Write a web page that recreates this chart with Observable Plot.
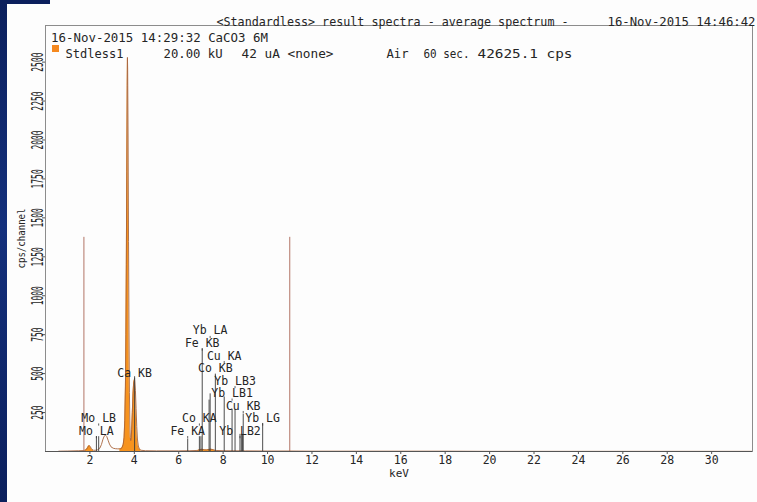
<!DOCTYPE html>
<html><head><meta charset="utf-8">
<script src="https://cdn.jsdelivr.net/npm/d3@7"></script>
<script src="https://cdn.jsdelivr.net/npm/@observablehq/plot@0.6"></script>
<style>
html,body{margin:0;padding:0;background:#fff;}
#wrap{position:relative;width:757px;height:502px;overflow:hidden;background:#fdfdfd;}
#wrap svg{position:absolute;left:0;top:0;}
.strip{position:absolute;left:0;top:0;width:7px;height:502px;background:linear-gradient(#0b1f5c,#14307c 45%,#0b1f5c);}
.strip2{position:absolute;left:0;top:0;width:50px;height:4px;background:#0b1f5c;}
.sq{position:absolute;left:52px;top:45px;width:7px;height:7px;background:#f5891f;}
</style></head><body><div id="wrap"><div class="strip"></div><div class="strip2"></div></div>
<script>
// ---- data ----
const xTicks = [2, 4, 6, 8, 10, 12, 14, 16, 18, 20, 22, 24, 26, 28, 30];
const yTicks = [250, 500, 750, 1000, 1250, 1500, 1750, 2000, 2250, 2500];

const energy = [0.6, 1.0, 1.5, 1.7, 1.80, 1.86, 1.90, 1.94, 1.98, 2.02, 2.06, 2.10, 2.16, 2.25, 2.35, 2.45, 2.52, 2.58, 2.64, 2.70, 2.76, 2.82, 2.88, 2.95, 3.05, 3.15, 3.25, 3.35, 3.40, 3.45, 3.50, 3.54, 3.57, 3.60, 3.62, 3.64, 3.66, 3.68, 3.69, 3.70, 3.72, 3.74, 3.76, 3.78, 3.80, 3.82, 3.84, 3.86, 3.88, 3.91, 3.94, 3.97, 4.00, 4.02, 4.05, 4.08, 4.11, 4.14, 4.18, 4.23, 4.30, 4.50, 5.0, 6.0, 6.5, 6.85, 6.95, 7.05, 7.15, 7.25, 7.35, 7.45, 7.55, 7.65, 8.0, 9.0, 10.0, 11.0, 12, 14, 16, 18, 20, 22, 24, 26, 28, 30, 31.8];
const counts = [2, 3, 5, 6, 9, 16, 26, 36, 38, 30, 20, 12, 8, 8, 11, 22, 45, 75, 98, 105, 96, 72, 48, 30, 21, 18, 17, 17, 18, 25, 45, 90, 200, 420, 750, 1200, 1800, 2350, 2530, 2450, 2000, 1350, 780, 380, 170, 90, 70, 85, 140, 250, 370, 440, 460, 455, 390, 275, 160, 80, 35, 15, 8, 5, 4, 4, 5, 7, 12, 14, 11, 10, 13, 15, 11, 7, 5, 4, 3, 3, 2, 2, 2, 2, 1, 1, 1, 1, 1, 1, 1];

const fillRanges = [[1.80, 2.16], [3.35, 4.30], [6.85, 7.65]];

const roiEnergies = [1.73, 11.0];
const roiHeight = 1375;

const elementNames = ["Mo LA", "Mo LB", "Ca KB", "Fe KA", "Co KA", "Fe KB", "Yb LA", "Co KB", "Cu KA", "Yb LB1", "Yb LB3", "Yb LB2", "Cu KB", "Yb LG"];
const elementEnergies = [2.293, 2.395, 4.013, 6.404, 6.930, 7.058, 7.415, 7.649, 8.048, 8.402, 8.536, 8.758, 8.905, 9.780];
const elementLineTop = [95, 95, 480, 80, 95, 660, 370, 490, 350, 270, 270, 110, 240, 180];
const elementLabelY = [132, 213, 505, 132, 213, 694, 775, 533, 614, 373, 453, 132, 293, 213];

const extraLineEnergies = [7.000, 7.367, 8.820, 8.870];
const extraLineTop = [95, 330, 110, 110];

const headerLeft = "<Standardless> result spectra - average spectrum -";
const headerDate = "16-Nov-2015 14:46:42";
const headerLine2 = "16-Nov-2015 14:29:32 CaCO3 6M";
const infoParts = ["Stdless1", "20.00 kU", "42 uA <none>", "Air", "60 sec.", "42625.1 cps"];

// ---- tables ----
const spec = energy.map((e, i) => ({e, c: counts[i]}));
const fillData = fillRanges.flatMap(([a, b], g) => spec.filter(d => d.e >= a && d.e <= b).map(d => ({...d, g})));
const elements = elementNames.map((name, i) => ({name, e: elementEnergies[i], h: elementLineTop[i], ly: elementLabelY[i]}));
const extras = extraLineEnergies.map((e, i) => ({e, h: extraLineTop[i]}));

// layout of the header texts (offsets from the frame's top-left corner, and widths in px)
const infoLayout = [[20, 58], [118, 59], [196, 92], [341, 22], [378, 46], [432, 95]];

const ink = "#252525";
const plot = Plot.plot({
  width: 757, height: 502,
  marginLeft: 45, marginRight: 5, marginTop: 25, marginBottom: 51,
  x: {domain: [0, 31.84]},
  y: {domain: [0, 2735]},
  style: {fontFamily: "'DejaVu Sans Mono', monospace", fontSize: "12px", color: ink, background: "transparent"},
  marks: [
    Plot.ruleX(roiEnergies, {x: d => d, y1: 0, y2: roiHeight, stroke: "#b27566", strokeWidth: 1}),
    Plot.areaY(fillData, {x: "e", y: "c", z: "g", fill: "#f7931e", curve: "linear"}),
    Plot.lineY(spec, {x: "e", y: "c", stroke: "#a8643c", strokeWidth: 0.9, curve: "linear"}),
    Plot.ruleX(elements, {x: "e", y1: 0, y2: "h", stroke: "#3a3a3a", strokeWidth: 0.9}),
    Plot.ruleX(extras, {x: "e", y1: 0, y2: "h", stroke: "#3a3a3a", strokeWidth: 0.9}),
    Plot.ruleX(elements, {x: "e", y1: d => d.ly - 36, y2: d => d.ly - 50, stroke: "#3a3a3a", strokeWidth: 0.8}),
    Plot.text(elements, {x: "e", y: "ly", text: "name", fill: ink, fontSize: 11.5}),
    Plot.frame({stroke: "#8c8c8c"}),
    Plot.ruleY([0], {stroke: "#555"}),
    Plot.axisX({ticks: xTicks, tickSize: 3, tickPadding: 1, label: null, stroke: "#555", fontSize: 11.5}),
    Plot.axisY({ticks: yTicks, tickSize: 3, tickFormat: () => "", label: null, stroke: "#555"}),
    Plot.text(yTicks, {y: d => d, text: d => String(d), frameAnchor: "left", rotate: -90, dx: -3, textAnchor: "middle", lineAnchor: "bottom", fontSize: 15}),
    Plot.text(["cps/channel"], {text: d => d, frameAnchor: "left", rotate: -90, dx: -24.5, textAnchor: "middle", fontSize: 11}),
    Plot.text(["keV"], {text: d => d, frameAnchor: "bottom", dy: 25, fontSize: 11}),
    Plot.text([headerLeft], {text: d => d, frameAnchor: "top-left", textAnchor: "start", dx: 171, dy: -8.3}),
    Plot.text([headerDate], {text: d => d, frameAnchor: "top-right", textAnchor: "end", dx: 3, dy: -8.3}),
    Plot.text([headerLine2], {text: d => d, frameAnchor: "top-left", textAnchor: "start", dx: 5.5, dy: 8, fontSize: 12.5}),
    ...infoParts.map((t, i) => Plot.text([t], {text: d => d, frameAnchor: "top-left", textAnchor: "start", dx: infoLayout[i][0], dy: 24}))
  ]
});

// condensed look of the rotated axis texts, and header piece widths
const widthOf = new Map(infoParts.map((t, i) => [t, infoLayout[i][1]]));
widthOf.set(headerLeft, 352);
widthOf.set(headerDate, 148);
widthOf.set(headerLine2, 217);
d3.select(plot).selectAll("text").each(function () {
  const tr = this.getAttribute("transform") || "";
  const s = this.textContent;
  let len = null;
  if (tr.includes("rotate(-90")) len = s === "cps/channel" ? 60 : s.length * 4.8;
  else if (widthOf.has(s)) len = widthOf.get(s);
  if (len) {
    this.setAttribute("textLength", len);
    this.setAttribute("lengthAdjust", "spacingAndGlyphs");
  }
});

const wrap = document.getElementById("wrap");
wrap.insertBefore(plot, wrap.firstChild);
const sq = document.createElement("div");
sq.className = "sq";
wrap.appendChild(sq);
</script></body></html>
